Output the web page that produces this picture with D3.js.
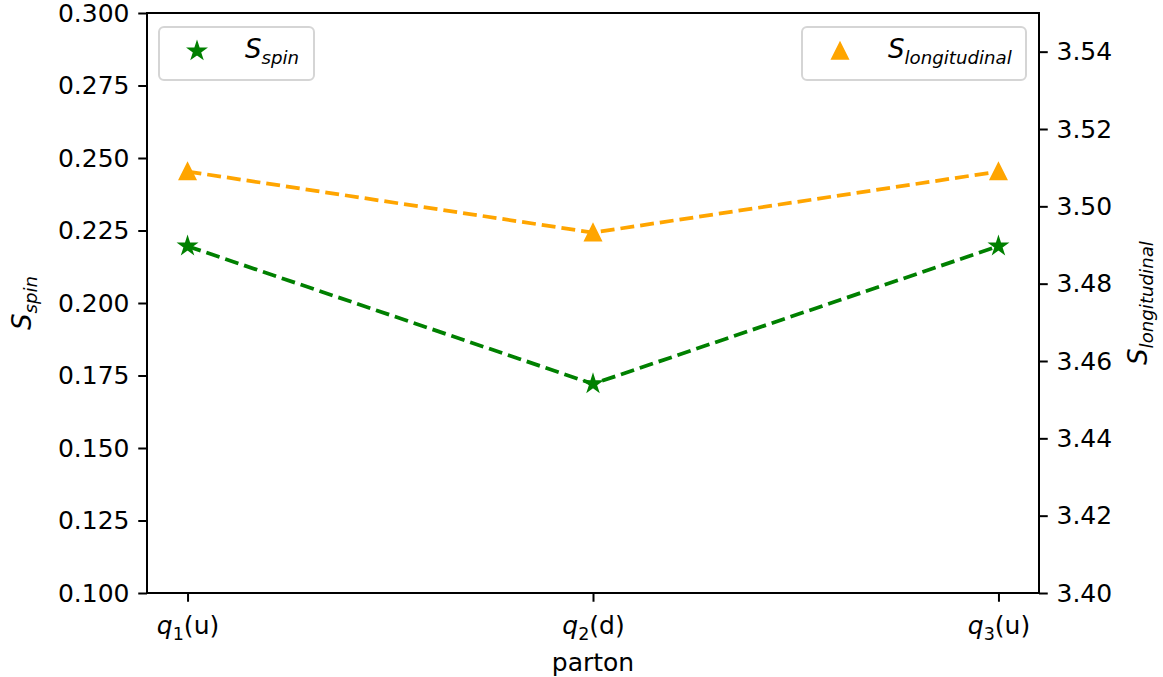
<!DOCTYPE html>
<html>
<head>
<meta charset="utf-8">
<script src="https://cdn.jsdelivr.net/npm/d3@7"></script>
<style>
  body { margin: 0; background: #fff; }
  svg text { font-family: "DejaVu Sans", sans-serif; fill: #000; }
</style>
</head>
<body>
<div id="chart"></div>
<script>
// data
const partons = ['q1', 'q2', 'q3'];
const partonSubs = ['1', '2', '3'];
const flavours = ['u', 'd', 'u'];
const sSpin = [0.2196, 0.1721, 0.2196];
const sLong = [3.509, 3.4932, 3.509];
const leftTicks = [0.100, 0.125, 0.150, 0.175, 0.200, 0.225, 0.250, 0.275, 0.300];
const rightTicks = [3.40, 3.42, 3.44, 3.46, 3.48, 3.50, 3.52, 3.54];

const W = 1163, H = 677;
const margin = { top: 13, right: 124, bottom: 84, left: 147 };
const width = W - margin.left - margin.right,
      height = H - margin.top - margin.bottom;

const green = '#008000', orange = '#ffa500';
const tickFont = 25, labelFont = 26;

const svg = d3.select('#chart').append('svg')
  .attr('width', W).attr('height', H);

const g = svg.append('g')
  .attr('transform', `translate(${margin.left},${margin.top})`);

// scales
const x = d3.scalePoint().domain(partons).range([0, width]).padding(0.1);
const yL = d3.scaleLinear().domain([0.1, 0.3]).range([height, 0]);
const yR = d3.scaleLinear().domain([3.40, 3.55]).range([height, 0]);

// small helper for "base_sub rest" mathtext-like labels
function mathText(sel, base, sub, rest, size, subItalic) {
  sel.append('tspan').attr('font-style', 'italic').text(base);
  sel.append('tspan')
    .attr('font-size', size * 0.7)
    .attr('font-style', subItalic ? 'italic' : 'normal')
    .attr('dy', size * 0.22)
    .text(sub);
  if (rest) {
    sel.append('tspan').attr('dy', -size * 0.22).text(rest);
  }
}

// axes
const tickLen = 8.75, tickPad = 8.75;

const xAxis = g.append('g')
  .attr('transform', `translate(0,${height})`)
  .call(d3.axisBottom(x).tickSize(tickLen).tickPadding(tickPad).tickFormat(''));
xAxis.selectAll('.tick text').each(function(d, i) {
  const t = d3.select(this).attr('font-size', tickFont).attr('dy', '0.95em');
  mathText(t, 'q', partonSubs[i], '(' + flavours[i] + ')', tickFont, false);
});

const leftAxis = g.append('g')
  .call(d3.axisLeft(yL).tickValues(leftTicks).tickFormat(d3.format('.3f'))
    .tickSize(tickLen).tickPadding(tickPad));

const rightAxis = g.append('g')
  .attr('transform', `translate(${width},0)`)
  .call(d3.axisRight(yR).tickValues(rightTicks).tickFormat(d3.format('.2f'))
    .tickSize(tickLen).tickPadding(tickPad));

[xAxis, leftAxis, rightAxis].forEach(a => {
  a.select('.domain').remove();
  a.selectAll('.tick line').attr('stroke', '#000').attr('stroke-width', 2);
  a.selectAll('.tick text').attr('font-size', tickFont).attr('font-family', 'DejaVu Sans');
});

// frame
g.append('rect')
  .attr('width', width).attr('height', height)
  .attr('fill', 'none').attr('stroke', '#000').attr('stroke-width', 2);

// markers
const star = d3.symbol(d3.symbolStar, 7.5 * 7.5 / 0.8908130915292852);
const tri = 'M0,-7.5L-7.5,7.5L7.5,7.5Z';

// dashed lines
const dash = '13.9,6';
g.append('path')
  .datum(sLong)
  .attr('fill', 'none').attr('stroke', orange).attr('stroke-width', 3.75)
  .attr('stroke-dasharray', dash)
  .attr('d', d3.line().x((d, i) => x(partons[i])).y(d => yR(d)));

g.append('path')
  .datum(sSpin)
  .attr('fill', 'none').attr('stroke', green).attr('stroke-width', 3.75)
  .attr('stroke-dasharray', dash)
  .attr('d', d3.line().x((d, i) => x(partons[i])).y(d => yL(d)));

g.selectAll('.tri').data(sLong).enter().append('path')
  .attr('d', tri)
  .attr('transform', (d, i) => `translate(${x(partons[i])},${yR(d)})`)
  .attr('fill', orange).attr('stroke', orange).attr('stroke-width', 2.5)
  .attr('stroke-linejoin', 'miter');

g.selectAll('.star').data(sSpin).enter().append('path')
  .attr('d', star)
  .attr('transform', (d, i) => `translate(${x(partons[i])},${yL(d)})`)
  .attr('fill', green).attr('stroke', green).attr('stroke-width', 2.5);

// axis labels
svg.append('text')
  .attr('x', margin.left + width / 2).attr('y', 671)
  .attr('text-anchor', 'middle').attr('font-size', tickFont)
  .text('parton');

const ylab = svg.append('text')
  .attr('transform', `translate(31,${margin.top + height / 2}) rotate(-90)`)
  .attr('text-anchor', 'middle').attr('font-size', labelFont);
mathText(ylab, 'S', 'spin', null, labelFont, true);

const yrlab = svg.append('text')
  .attr('transform', `translate(1147,${margin.top + height / 2}) rotate(-90)`)
  .attr('text-anchor', 'middle').attr('font-size', labelFont);
mathText(yrlab, 'S', 'longitudinal', null, labelFont, true);

// legends
function legend(x0, w, marker, color, sub) {
  const lg = svg.append('g').attr('transform', `translate(${x0},27)`);
  lg.append('rect')
    .attr('width', w).attr('height', 53).attr('rx', 5)
    .attr('fill', '#fff').attr('fill-opacity', 0.8)
    .attr('stroke', '#d5d5d5').attr('stroke-width', 2);
  lg.append('path')
    .attr('d', marker)
    .attr('transform', 'translate(38,24)')
    .attr('fill', color).attr('stroke', color).attr('stroke-width', 2.5);
  const t = lg.append('text')
    .attr('x', 86).attr('y', 31).attr('font-size', labelFont);
  mathText(t, 'S', sub, null, labelFont, true);
}
legend(159, 155, star(), green, 'spin');
legend(802, 224, tri, orange, 'longitudinal');
</script>
</body>
</html>
